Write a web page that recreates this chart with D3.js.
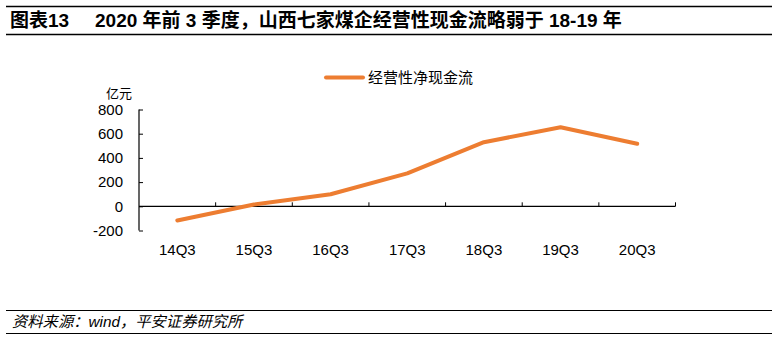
<!DOCTYPE html>
<html>
<head>
<meta charset="utf-8">
<script src="https://cdn.jsdelivr.net/npm/d3@7"></script>
<style>
  html, body { margin: 0; padding: 0; background: #fff; }
  svg { display: block; }
  text { font-family: "Liberation Sans", Arial, "Noto Sans CJK SC", sans-serif; fill: #000; }
</style>
</head>
<body>
<svg id="chart" width="778" height="340"></svg>
<script>
// Quarterly operating net cash flow (亿元), seven Shanxi coal companies
const quarters = ["14Q3", "15Q3", "16Q3", "17Q3", "18Q3", "19Q3", "20Q3"];
const cashFlow = [-117, 15, 100, 272, 530, 653, 517];
const yTicks = [-200, 0, 200, 400, 600, 800];
const seriesName = "经营性净现金流";
const titleNo = "图表13";
const titleText = "2020 年前 3 季度，山西七家煤企经营性现金流略弱于 18-19 年";
const sourceText = "资料来源：wind，平安证券研究所";
const unitText = "亿元";

const svg = d3.select("#chart");
const orange = "#ED7D31";

// Header and footer rules
const rule = (y, w) => svg.append("line")
  .attr("x1", 6).attr("x2", 772).attr("y1", y).attr("y2", y)
  .attr("stroke", "#000").attr("stroke-width", w);
rule(6.5, 1.5);
rule(34.5, 1.5);
rule(310.5, 1.2);
rule(333.5, 1.2);

svg.append("text").attr("x", 10).attr("y", 27)
  .style("font-size", "19px").style("font-weight", "bold")
  .text(titleNo);
svg.append("text").attr("x", 95).attr("y", 27)
  .style("font-size", "19px").style("font-weight", "bold")
  .text(titleText);

svg.append("text").attr("x", 12).attr("y", 327)
  .style("font-size", "15.3px").style("font-style", "italic")
  .text(sourceText);

// Scales
const x0 = 139, x1 = 675.5;
const x = d3.scaleBand().domain(quarters).range([x0, x1]);
const y = d3.scaleLinear().domain([-200, 800]).range([230.5, 109.5]);

// Y axis, ticks pointing inward
const yAxis = d3.axisRight(y).tickValues(yTicks).tickSize(4)
  .tickFormat(d => d < 0 ? "-" + Math.abs(d) : d);
const gy = svg.append("g").attr("transform", `translate(${x0},0)`).call(yAxis);
gy.select(".domain").attr("stroke", "#000").attr("stroke-width", 1.2).attr("d", `M0,${y(-200)}V${y(800)}`);
gy.selectAll(".tick line").attr("stroke", "#000").attr("stroke-width", 1);
gy.selectAll(".tick text")
  .attr("x", -16).attr("text-anchor", "end")
  .style("font-size", "15px")
  .style("font-family", "'Liberation Sans', Arial, sans-serif").attr("fill", "#000");

svg.append("text").attr("x", 132).attr("y", 97.5)
  .attr("text-anchor", "end").style("font-size", "13px")
  .text(unitText);

// X axis on the zero line, ticks pointing up at category boundaries
const xTickPos = quarters.slice(1).map(q => x(q)).concat([x1]);
const gx = svg.append("g");
gx.append("line")
  .attr("x1", x0).attr("x2", x1)
  .attr("y1", y(0)).attr("y2", y(0))
  .attr("stroke", "#000").attr("stroke-width", 1.2);
gx.selectAll("line.tk").data(xTickPos).join("line")
  .attr("class", "tk")
  .attr("x1", d => d).attr("x2", d => d)
  .attr("y1", y(0)).attr("y2", y(0) - 4)
  .attr("stroke", "#000").attr("stroke-width", 1);

// Category labels below the plot
svg.append("g").selectAll("text").data(quarters).join("text")
  .attr("x", d => x(d) + x.bandwidth() / 2)
  .attr("y", 255)
  .attr("text-anchor", "middle")
  .style("font-size", "15px")
  .text(d => d);

// Series line
const line = d3.line()
  .x((d, i) => x(quarters[i]) + x.bandwidth() / 2)
  .y(d => y(d));
svg.append("path").datum(cashFlow)
  .attr("d", line)
  .attr("fill", "none")
  .attr("stroke", orange)
  .attr("stroke-width", 4)
  .attr("stroke-linejoin", "round")
  .attr("stroke-linecap", "round");

// Legend
const lg = svg.append("g");
lg.append("line").attr("x1", 326).attr("x2", 363).attr("y1", 77.5).attr("y2", 77.5)
  .attr("stroke", orange).attr("stroke-width", 4).attr("stroke-linecap", "round");
lg.append("text").attr("x", 368).attr("y", 83)
  .style("font-size", "15px").text(seriesName);
</script>
</body>
</html>
